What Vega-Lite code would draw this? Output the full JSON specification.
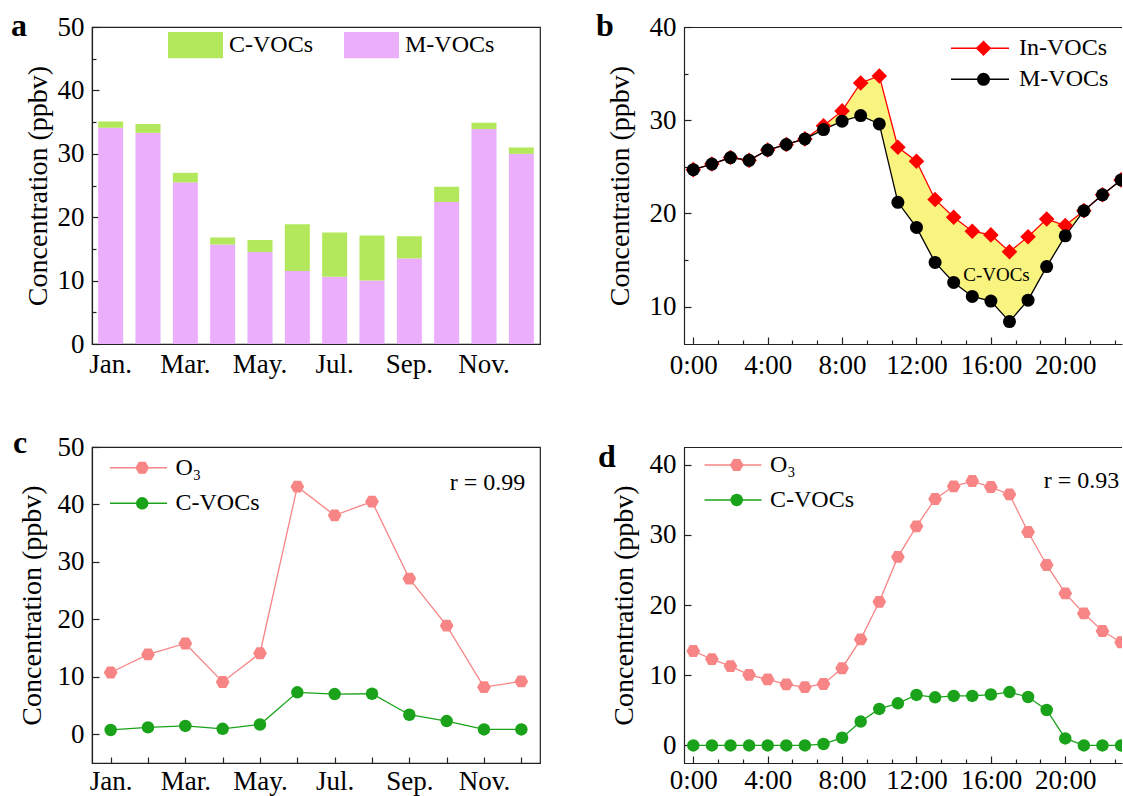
{
  "$schema": "https://vega.github.io/schema/vega-lite/v6.json",
  "padding": {"left": 10, "top": 9, "right": 0, "bottom": 0},
  "background": "white",
  "columns": 2,
  "spacing": {"row": 103, "column": 144},
  "bounds": "flush",
  "resolve": {"scale": {"color": "independent", "shape": "independent", "stroke": "independent"}, "legend": {"color": "independent", "shape": "independent", "stroke": "independent"}},
  "config": {
    "font": "Liberation Serif",
    "view": {"stroke": "#222", "strokeWidth": 1.2},
    "axis": {"labelFont": "Liberation Serif", "labelFontSize": 27, "labelColor": "#000", "titleFont": "Liberation Serif", "titleFontSize": 28, "titleFontWeight": "normal", "titleColor": "#000", "domainColor": "#222", "domainWidth": 1.2, "tickColor": "#222", "tickWidth": 1.2, "grid": false, "labelOverlap": false, "labelFlush": false},
    "legend": {"labelFont": "Liberation Serif", "labelFontSize": 24, "labelColor": "#000", "padding": 0},
    "title": {"font": "Liberation Serif", "fontSize": 32, "fontWeight": "bold", "anchor": "start", "frame": "group", "color": "#000", "offset": 0, "baseline": "alphabetic"}
  },
  "concat": [
    {
      "width": 448, "height": 317,
      "title": {"text": "a", "dx": -81, "dy": 34},
      "data": {"values": [
        {"month": "Jan.", "series": "M-VOCs", "value": 34.1}, {"month": "Jan.", "series": "C-VOCs", "value": 1.0},
        {"month": "Feb.", "series": "M-VOCs", "value": 33.3}, {"month": "Feb.", "series": "C-VOCs", "value": 1.4},
        {"month": "Mar.", "series": "M-VOCs", "value": 25.5}, {"month": "Mar.", "series": "C-VOCs", "value": 1.5},
        {"month": "Apr.", "series": "M-VOCs", "value": 15.7}, {"month": "Apr.", "series": "C-VOCs", "value": 1.1},
        {"month": "May.", "series": "M-VOCs", "value": 14.5}, {"month": "May.", "series": "C-VOCs", "value": 1.9},
        {"month": "Jun.", "series": "M-VOCs", "value": 11.5}, {"month": "Jun.", "series": "C-VOCs", "value": 7.4},
        {"month": "Jul.", "series": "M-VOCs", "value": 10.6}, {"month": "Jul.", "series": "C-VOCs", "value": 7.0},
        {"month": "Aug.", "series": "M-VOCs", "value": 10.0}, {"month": "Aug.", "series": "C-VOCs", "value": 7.1},
        {"month": "Sep.", "series": "M-VOCs", "value": 13.5}, {"month": "Sep.", "series": "C-VOCs", "value": 3.5},
        {"month": "Oct.", "series": "M-VOCs", "value": 22.4}, {"month": "Oct.", "series": "C-VOCs", "value": 2.4},
        {"month": "Nov.", "series": "M-VOCs", "value": 33.9}, {"month": "Nov.", "series": "C-VOCs", "value": 1.0},
        {"month": "Dec.", "series": "M-VOCs", "value": 30.0}, {"month": "Dec.", "series": "C-VOCs", "value": 1.0}
      ]},
      "mark": {"type": "bar"},
      "encoding": {
        "x": {"field": "month", "type": "ordinal", "sort": ["Jan.", "Feb.", "Mar.", "Apr.", "May.", "Jun.", "Jul.", "Aug.", "Sep.", "Oct.", "Nov.", "Dec."],
          "scale": {"paddingInner": 0.33, "paddingOuter": 0.165},
          "axis": {"title": null, "labelAngle": 0, "labelExpr": "indexof(['Jan.','Mar.','May.','Jul.','Sep.','Nov.'], datum.value) >= 0 ? datum.value : ''", "tickSize": -6, "labelPadding": 13}},
        "y": {"field": "value", "type": "quantitative", "stack": "zero", "scale": {"domain": [0, 50], "nice": false},
          "axis": {"title": "Concentration (ppbv)", "values": [0, 5, 10, 15, 20, 25, 30, 35, 40, 45, 50], "labelExpr": "datum.value % 10 === 0 ? datum.label : ''",
            "tickSize": {"condition": {"test": "datum.value % 10 === 0", "value": -7}, "value": -4}, "labelPadding": 15, "titlePadding": 5}},
        "color": {"field": "series", "type": "nominal", "scale": {"domain": ["C-VOCs", "M-VOCs"], "range": ["#b3e85c", "#eaaefa"]},
          "legend": {"title": null, "orient": "none", "legendX": 76, "legendY": -9.5, "direction": "horizontal", "symbolType": "M-1,-0.48L1,-0.48L1,0.48L-1,0.48Z", "symbolSize": 3025, "symbolStrokeWidth": 0, "labelOffset": 6, "columnPadding": 30}},
        "order": {"field": "series", "sort": "descending"}
      }
    },
    {
      "width": 438, "height": 317,
      "view": {"stroke": null},
      "title": {"text": "b", "dx": -88, "dy": 34},
      "data": {"values": [
        {"hour": 0, "In-VOCs": 24.7, "M-VOCs": 24.7}, {"hour": 1, "In-VOCs": 25.3, "M-VOCs": 25.3},
        {"hour": 2, "In-VOCs": 26.0, "M-VOCs": 26.0}, {"hour": 3, "In-VOCs": 25.7, "M-VOCs": 25.7},
        {"hour": 4, "In-VOCs": 26.8, "M-VOCs": 26.8}, {"hour": 5, "In-VOCs": 27.4, "M-VOCs": 27.4},
        {"hour": 6, "In-VOCs": 28.0, "M-VOCs": 28.0}, {"hour": 7, "In-VOCs": 29.4, "M-VOCs": 29.0},
        {"hour": 8, "In-VOCs": 31.0, "M-VOCs": 29.9}, {"hour": 9, "In-VOCs": 34.0, "M-VOCs": 30.5},
        {"hour": 10, "In-VOCs": 34.75, "M-VOCs": 29.6}, {"hour": 11, "In-VOCs": 27.1, "M-VOCs": 21.2},
        {"hour": 12, "In-VOCs": 25.6, "M-VOCs": 18.5}, {"hour": 13, "In-VOCs": 21.5, "M-VOCs": 14.75},
        {"hour": 14, "In-VOCs": 19.6, "M-VOCs": 12.6}, {"hour": 15, "In-VOCs": 18.1, "M-VOCs": 11.1},
        {"hour": 16, "In-VOCs": 17.7, "M-VOCs": 10.6}, {"hour": 17, "In-VOCs": 15.9, "M-VOCs": 8.4},
        {"hour": 18, "In-VOCs": 17.5, "M-VOCs": 10.7}, {"hour": 19, "In-VOCs": 19.4, "M-VOCs": 14.3},
        {"hour": 20, "In-VOCs": 18.7, "M-VOCs": 17.6}, {"hour": 21, "In-VOCs": 20.3, "M-VOCs": 20.3},
        {"hour": 22, "In-VOCs": 22.0, "M-VOCs": 22.0}, {"hour": 23, "In-VOCs": 23.6, "M-VOCs": 23.6}
      ]},
      "resolve": {"axis": {"x": "independent"}},
      "layer": [
        {
          "mark": {"type": "area", "color": "#f9f37f", "opacity": 1, "clip": true},
          "encoding": {
            "x": {"field": "hour", "type": "quantitative", "scale": {"domain": [-0.5, 23.05], "nice": false, "zero": false},
              "axis": {"title": null, "orient": "bottom", "values": [0, 1.3333, 2.6667, 4, 5.3333, 6.6667, 8, 9.3333, 10.6667, 12, 13.3333, 14.6667, 16, 17.3333, 18.6667, 20, 21.3333, 22.6667],
                "labelExpr": "abs(datum.value % 4) < 0.01 ? datum.value + ':00' : ''", "labelOverlap": false,
                "tickSize": {"condition": {"test": "abs(datum.value % 4) < 0.01", "value": -7}, "value": -4}, "labelPadding": 15, "domain": true}},
            "y": {"field": "In-VOCs", "type": "quantitative", "scale": {"domain": [6, 40], "nice": false, "zero": false},
              "axis": {"title": "Concentration (ppbv)", "values": [10, 15, 20, 25, 30, 35, 40], "labelExpr": "datum.value % 10 === 0 ? datum.label : ''", "labelOverlap": false,
                "tickSize": {"condition": {"test": "datum.value % 10 === 0", "value": -7}, "value": -4}, "labelPadding": 15, "titlePadding": 15, "domain": true}},
            "y2": {"field": "M-VOCs"}
          }
        },
        {
          "data": {"values": [{"edge": 40}, {"edge": 6}]},
          "mark": {"type": "rule", "color": "#222", "strokeWidth": 1.2, "yOffset": 0.5},
          "encoding": {"y": {"field": "edge", "type": "quantitative"}}
        },
        {
          "transform": [{"fold": ["In-VOCs", "M-VOCs"], "as": ["series", "value"]}],
          "mark": {"type": "line", "strokeWidth": 1.3, "clip": true},
          "encoding": {
            "x": {"field": "hour", "type": "quantitative", "axis": null},
            "y": {"field": "value", "type": "quantitative"},
            "stroke": {"field": "series", "type": "nominal", "scale": {"domain": ["M-VOCs", "In-VOCs"], "range": ["#000000", "#ff0000"]},
              "legend": {"title": null, "orient": "none", "legendX": 284, "legendY": 9.3, "direction": "vertical", "values": ["In-VOCs", "M-VOCs"],
                "symbolType": "M-2.9,0L2.9,0", "symbolSize": 400, "symbolStrokeWidth": 1.5, "labelOffset": 27, "rowPadding": 7}}
          }
        },
        {
          "transform": [{"fold": ["In-VOCs", "M-VOCs"], "as": ["series", "value"]}],
          "mark": {"type": "point", "filled": true, "opacity": 1, "size": 169, "clip": true},
          "encoding": {
            "x": {"field": "hour", "type": "quantitative", "axis": null},
            "y": {"field": "value", "type": "quantitative"},
            "color": {"field": "series", "type": "nominal", "scale": {"domain": ["In-VOCs", "M-VOCs"], "range": ["#ff0000", "#000000"]},
              "legend": {"title": null, "orient": "none", "legendX": 287.5, "legendY": 9.3, "direction": "vertical", "symbolSize": 169, "labelExpr": "''", "rowPadding": 7, "symbolOpacity": 1}},
            "shape": {"field": "series", "type": "nominal", "scale": {"domain": ["In-VOCs", "M-VOCs"], "range": ["M-1.2,0L0,-1.2L1.2,0L0,1.2Z", "circle"]}, "legend": null}
          }
        },
        {
          "data": {"values": [{}]},
          "mark": {"type": "text", "text": "C-VOCs", "fontSize": 19, "font": "Liberation Serif", "color": "#000"},
          "encoding": {
            "x": {"datum": 16.3, "type": "quantitative", "axis": null},
            "y": {"datum": 13.4, "type": "quantitative"}
          }
        }
      ]
    },
    {
      "width": 448, "height": 316,
      "title": {"text": "c", "dx": -79, "dy": 31},
      "data": {"values": [
        {"month": "Jan.", "series": "O₃", "value": 10.75}, {"month": "Feb.", "series": "O₃", "value": 13.9},
        {"month": "Mar.", "series": "O₃", "value": 15.8}, {"month": "Apr.", "series": "O₃", "value": 9.1},
        {"month": "May.", "series": "O₃", "value": 14.1}, {"month": "Jun.", "series": "O₃", "value": 43.1},
        {"month": "Jul.", "series": "O₃", "value": 38.1}, {"month": "Aug.", "series": "O₃", "value": 40.5},
        {"month": "Sep.", "series": "O₃", "value": 27.1}, {"month": "Oct.", "series": "O₃", "value": 18.9},
        {"month": "Nov.", "series": "O₃", "value": 8.2}, {"month": "Dec.", "series": "O₃", "value": 9.2},
        {"month": "Jan.", "series": "C-VOCs", "value": 0.75}, {"month": "Feb.", "series": "C-VOCs", "value": 1.2},
        {"month": "Mar.", "series": "C-VOCs", "value": 1.45}, {"month": "Apr.", "series": "C-VOCs", "value": 0.95},
        {"month": "May.", "series": "C-VOCs", "value": 1.7}, {"month": "Jun.", "series": "C-VOCs", "value": 7.3},
        {"month": "Jul.", "series": "C-VOCs", "value": 7.0}, {"month": "Aug.", "series": "C-VOCs", "value": 7.05},
        {"month": "Sep.", "series": "C-VOCs", "value": 3.4}, {"month": "Oct.", "series": "C-VOCs", "value": 2.3},
        {"month": "Nov.", "series": "C-VOCs", "value": 0.85}, {"month": "Dec.", "series": "C-VOCs", "value": 0.85}
      ]},
      "layer": [
        {
          "mark": {"type": "line", "strokeWidth": 1.3},
          "encoding": {
            "x": {"field": "month", "type": "ordinal", "sort": ["Jan.", "Feb.", "Mar.", "Apr.", "May.", "Jun.", "Jul.", "Aug.", "Sep.", "Oct.", "Nov.", "Dec."],
              "scale": {"padding": 0.5},
              "axis": {"title": null, "labelAngle": 0, "labelExpr": "indexof(['Jan.','Mar.','May.','Jul.','Sep.','Nov.'], datum.value) >= 0 ? datum.value : ''", "tickSize": -6, "labelPadding": 11}},
            "y": {"field": "value", "type": "quantitative", "scale": {"domain": [-5, 50], "nice": false, "zero": false},
              "axis": {"title": "Concentration (ppbv)", "values": [0, 5, 10, 15, 20, 25, 30, 35, 40, 45, 50], "labelExpr": "datum.value % 10 === 0 ? datum.label : ''", "labelOverlap": false,
                "tickSize": {"condition": {"test": "datum.value % 10 === 0", "value": -7}, "value": -4}, "labelPadding": 15, "titlePadding": 11}},
            "stroke": {"field": "series", "type": "nominal", "scale": {"domain": ["C-VOCs", "O₃"], "range": ["#1aa31a", "#f88585"]},
              "legend": {"title": null, "orient": "none", "legendX": 34.5, "legendY": 8.7, "direction": "vertical", "values": ["O₃", "C-VOCs"],
                "symbolType": "M-2.85,0L2.85,0", "symbolSize": 400, "symbolStrokeWidth": 1.5, "labelOffset": 25, "rowPadding": 11.6}}
          }
        },
        {
          "mark": {"type": "point", "filled": true, "opacity": 1, "size": 156},
          "encoding": {
            "x": {"field": "month", "type": "ordinal", "sort": ["Jan.", "Feb.", "Mar.", "Apr.", "May.", "Jun.", "Jul.", "Aug.", "Sep.", "Oct.", "Nov.", "Dec."]},
            "y": {"field": "value", "type": "quantitative"},
            "color": {"field": "series", "type": "nominal", "scale": {"domain": ["O₃", "C-VOCs"], "range": ["#f88585", "#1aa31a"]},
              "legend": {"title": null, "orient": "none", "legendX": 38.2, "legendY": 8.7, "direction": "vertical", "symbolSize": 156, "labelExpr": "''", "rowPadding": 11.6, "symbolOpacity": 1}},
            "shape": {"field": "series", "type": "nominal", "scale": {"domain": ["O₃", "C-VOCs"], "range": ["M-1.1,0L-0.55,-0.95L0.55,-0.95L1.1,0L0.55,0.95L-0.55,0.95Z", "circle"]}, "legend": null}
          }
        },
        {
          "data": {"values": [{}]},
          "mark": {"type": "text", "text": "r = 0.99", "fontSize": 24, "font": "Liberation Serif", "align": "right", "dx": 4, "color": "#000"},
          "encoding": {
            "x": {"datum": "Dec.", "type": "ordinal"},
            "y": {"datum": 43.8, "type": "quantitative"}
          }
        }
      ]
    },
    {
      "width": 438, "height": 316,
      "view": {"stroke": null},
      "title": {"text": "d", "dx": -86, "dy": 31},
      "data": {"values": [
        {"hour": 0, "series": "O₃", "value": 13.45}, {"hour": 1, "series": "O₃", "value": 12.3},
        {"hour": 2, "series": "O₃", "value": 11.3}, {"hour": 3, "series": "O₃", "value": 10.05},
        {"hour": 4, "series": "O₃", "value": 9.4}, {"hour": 5, "series": "O₃", "value": 8.7},
        {"hour": 6, "series": "O₃", "value": 8.3}, {"hour": 7, "series": "O₃", "value": 8.75},
        {"hour": 8, "series": "O₃", "value": 11.0}, {"hour": 9, "series": "O₃", "value": 15.1},
        {"hour": 10, "series": "O₃", "value": 20.45}, {"hour": 11, "series": "O₃", "value": 26.85},
        {"hour": 12, "series": "O₃", "value": 31.2}, {"hour": 13, "series": "O₃", "value": 35.1},
        {"hour": 14, "series": "O₃", "value": 36.9}, {"hour": 15, "series": "O₃", "value": 37.65},
        {"hour": 16, "series": "O₃", "value": 36.8}, {"hour": 17, "series": "O₃", "value": 35.75},
        {"hour": 18, "series": "O₃", "value": 30.4}, {"hour": 19, "series": "O₃", "value": 25.7},
        {"hour": 20, "series": "O₃", "value": 21.65}, {"hour": 21, "series": "O₃", "value": 18.8},
        {"hour": 22, "series": "O₃", "value": 16.3}, {"hour": 23, "series": "O₃", "value": 14.7},
        {"hour": 0, "series": "C-VOCs", "value": 0}, {"hour": 1, "series": "C-VOCs", "value": 0},
        {"hour": 2, "series": "C-VOCs", "value": 0}, {"hour": 3, "series": "C-VOCs", "value": 0},
        {"hour": 4, "series": "C-VOCs", "value": 0}, {"hour": 5, "series": "C-VOCs", "value": 0},
        {"hour": 6, "series": "C-VOCs", "value": 0}, {"hour": 7, "series": "C-VOCs", "value": 0.2},
        {"hour": 8, "series": "C-VOCs", "value": 1.1}, {"hour": 9, "series": "C-VOCs", "value": 3.4},
        {"hour": 10, "series": "C-VOCs", "value": 5.2}, {"hour": 11, "series": "C-VOCs", "value": 6.0},
        {"hour": 12, "series": "C-VOCs", "value": 7.2}, {"hour": 13, "series": "C-VOCs", "value": 6.85},
        {"hour": 14, "series": "C-VOCs", "value": 7.05}, {"hour": 15, "series": "C-VOCs", "value": 7.05},
        {"hour": 16, "series": "C-VOCs", "value": 7.25}, {"hour": 17, "series": "C-VOCs", "value": 7.6},
        {"hour": 18, "series": "C-VOCs", "value": 6.9}, {"hour": 19, "series": "C-VOCs", "value": 5.05},
        {"hour": 20, "series": "C-VOCs", "value": 1.0}, {"hour": 21, "series": "C-VOCs", "value": 0},
        {"hour": 22, "series": "C-VOCs", "value": 0}, {"hour": 23, "series": "C-VOCs", "value": 0}
      ]},
      "resolve": {"axis": {"x": "independent"}},
      "layer": [
        {
          "mark": {"type": "line", "strokeWidth": 1.3, "clip": true},
          "encoding": {
            "x": {"field": "hour", "type": "quantitative", "scale": {"domain": [-0.5, 23.05], "nice": false, "zero": false},
              "axis": {"title": null, "orient": "bottom", "values": [0, 1.3333, 2.6667, 4, 5.3333, 6.6667, 8, 9.3333, 10.6667, 12, 13.3333, 14.6667, 16, 17.3333, 18.6667, 20, 21.3333, 22.6667],
                "labelExpr": "abs(datum.value % 4) < 0.01 ? datum.value + ':00' : ''", "labelOverlap": false,
                "tickSize": {"condition": {"test": "abs(datum.value % 4) < 0.01", "value": -7}, "value": -4}, "labelPadding": 11, "domain": true}},
            "y": {"field": "value", "type": "quantitative", "scale": {"domain": [-2.5, 42.5], "nice": false, "zero": false},
              "axis": {"title": "Concentration (ppbv)", "values": [0, 5, 10, 15, 20, 25, 30, 35, 40], "labelExpr": "datum.value % 10 === 0 ? datum.label : ''", "labelOverlap": false,
                "tickSize": {"condition": {"test": "datum.value % 10 === 0", "value": -7}, "value": -4}, "labelPadding": 15, "titlePadding": 11, "domain": true}},
            "stroke": {"field": "series", "type": "nominal", "scale": {"domain": ["C-VOCs", "O₃"], "range": ["#1aa31a", "#f88585"]},
              "legend": {"title": null, "orient": "none", "legendX": 37, "legendY": 6, "direction": "vertical", "values": ["O₃", "C-VOCs"],
                "symbolType": "M-2.85,0L2.85,0", "symbolSize": 400, "symbolStrokeWidth": 1.5, "labelOffset": 25, "rowPadding": 11}}
          }
        },
        {
          "data": {"values": [{"edge": 42.5}, {"edge": -2.5}]},
          "mark": {"type": "rule", "color": "#222", "strokeWidth": 1.2, "yOffset": 0.5},
          "encoding": {"y": {"field": "edge", "type": "quantitative"}}
        },
        {
          "mark": {"type": "point", "filled": true, "opacity": 1, "size": 156, "clip": true},
          "encoding": {
            "x": {"field": "hour", "type": "quantitative", "axis": null},
            "y": {"field": "value", "type": "quantitative"},
            "color": {"field": "series", "type": "nominal", "scale": {"domain": ["O₃", "C-VOCs"], "range": ["#f88585", "#1aa31a"]},
              "legend": {"title": null, "orient": "none", "legendX": 40.7, "legendY": 6, "direction": "vertical", "symbolSize": 156, "labelExpr": "''", "rowPadding": 11, "symbolOpacity": 1}},
            "shape": {"field": "series", "type": "nominal", "scale": {"domain": ["O₃", "C-VOCs"], "range": ["M-1.1,0L-0.55,-0.95L0.55,-0.95L1.1,0L0.55,0.95L-0.55,0.95Z", "circle"]}, "legend": null}
          }
        },
        {
          "data": {"values": [{}]},
          "mark": {"type": "text", "text": "r = 0.93", "fontSize": 24, "font": "Liberation Serif", "align": "right", "color": "#000"},
          "encoding": {
            "x": {"datum": 22.9, "type": "quantitative", "axis": null},
            "y": {"datum": 37.6, "type": "quantitative"}
          }
        }
      ]
    }
  ]
}
